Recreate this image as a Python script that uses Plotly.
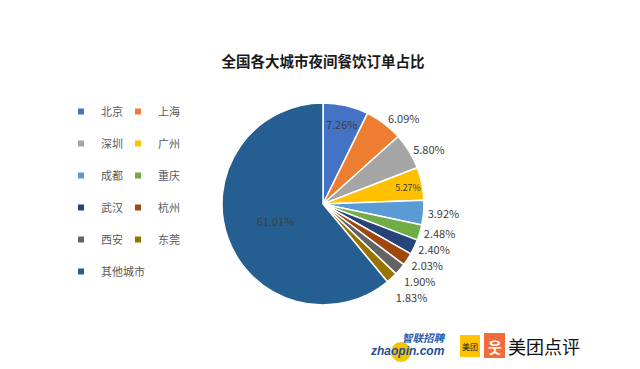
import plotly.graph_objects as go

cities = ["北京", "上海", "深圳", "广州", "成都", "重庆", "武汉", "杭州", "西安", "东莞", "其他城市"]
shares = [7.26, 6.09, 5.80, 5.27, 3.92, 2.48, 2.40, 2.03, 1.90, 1.83, 61.01]
colors = ["#4472C4", "#ED7D31", "#A5A5A5", "#FFC000", "#5B9BD5", "#70AD47",
          "#264478", "#9E480E", "#636363", "#997300", "#255E91"]
label_pos = ["inside", "outside", "outside", "inside", "outside", "outside",
             "outside", "outside", "outside", "outside", "inside"]
title_text = "全国各大城市夜间餐饮订单占比"

FONT = "Microsoft YaHei, Noto Sans CJK SC, sans-serif"
W, H = 640, 369

fig = go.Figure()
fig.add_trace(go.Pie(
    labels=cities, values=shares, sort=False, direction="clockwise", rotation=0,
    marker=dict(colors=colors, line=dict(color="white", width=1.5)),
    texttemplate="%{value:.2f}%", textposition=label_pos,
    insidetextorientation="horizontal",
    textfont=dict(family=FONT, size=11, color="#404040"),
    showlegend=False, hoverinfo="label+value",
    domain=dict(x=[(323 - 101) / W, (323 + 101) / W], y=[(165 - 101) / H, (165 + 101) / H]),
))

# legend entries (two columns, read row-wise)
for i, (c, col) in enumerate(zip(cities, colors)):
    fig.add_trace(go.Scatter(
        x=[None], y=[None], mode="markers", name=c,
        marker=dict(symbol="square", size=6, color=col),
        legend="legend" if i % 2 == 0 else "legend2",
        legendgroup=c, showlegend=True,
    ))

legend_common = dict(
    font=dict(family=FONT, size=11, color="#595959"),
    bgcolor="rgba(0,0,0,0)", yanchor="top", xanchor="left",
    tracegroupgap=13, itemwidth=30,
)

fig.update_layout(
    width=W, height=H,
    margin=dict(l=0, r=0, t=0, b=0),
    paper_bgcolor="white", plot_bgcolor="white",
    xaxis=dict(visible=False), yaxis=dict(visible=False),
    legend=dict(x=61 / W, y=1 - 97 / H, **legend_common),
    legend2=dict(x=118 / W, y=1 - 97 / H, **legend_common),
    title=dict(text="<b>" + title_text + "</b>", x=323 / W, xanchor="center",
               y=1 - 62 / H, yanchor="middle",
               font=dict(family=FONT, size=14.5, color="#1a1a1a")),
)

# source logos (bottom right)
fig.add_shape(type="circle", xref="paper", yref="paper",
              x0=391 / W, x1=411 / W, y0=1 - 362 / H, y1=1 - 342 / H,
              fillcolor="#F5C400", line=dict(width=0), layer="below")
fig.add_shape(type="rect", xref="paper", yref="paper",
              x0=460 / W, x1=480 / W, y0=1 - 357 / H, y1=1 - 335 / H,
              fillcolor="#FFC300", line=dict(width=0))
fig.add_shape(type="rect", xref="paper", yref="paper",
              x0=484 / W, x1=505 / W, y0=1 - 358 / H, y1=1 - 333 / H,
              fillcolor="#F26B3A", line=dict(width=0))
annos = [
    dict(text="<b><i>智联招聘</i></b>", x=424 / W, y=1 - 337 / H,
         font=dict(family=FONT, size=10.5, color="#2A5CB0")),
    dict(text="<b><i>zhaopin.com</i></b>", x=407 / W, y=1 - 351 / H,
         font=dict(family="Arial, Liberation Sans, sans-serif", size=12, color="#1E4F9C")),
    dict(text="美团", x=470 / W, y=1 - 346 / H,
         font=dict(family=FONT, size=8, color="#222222")),
    dict(text="<b>웃</b>", x=494.5 / W, y=1 - 346 / H,
         font=dict(family="Noto Sans CJK KR", size=15, color="white")),
    dict(text="美团点评", x=544 / W, y=1 - 346 / H,
         font=dict(family=FONT, size=18, color="#111111")),
]
for a in annos:
    fig.add_annotation(xref="paper", yref="paper", xanchor="center", yanchor="middle",
                       showarrow=False, **a)

page_css = (
    "var s=document.createElement('style');"
    "s.innerHTML='html,body{margin:0;padding:0;overflow:hidden} .textline{display:none}';"
    "document.head.appendChild(s);"
)
fig.write_html("out.html", post_script=page_css, config={"displayModeBar": False})
